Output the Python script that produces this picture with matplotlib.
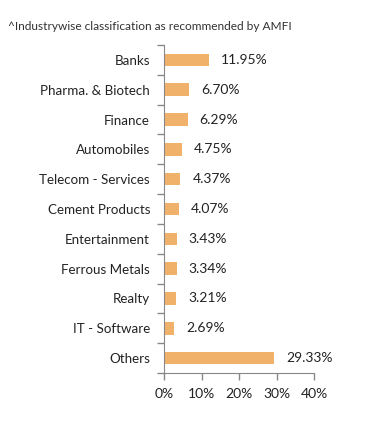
import matplotlib
matplotlib.use("Agg")
import matplotlib.pyplot as plt
import numpy as np

categories = ["Banks", "Pharma. & Biotech", "Finance", "Automobiles", "Telecom - Services",
              "Cement Products", "Entertainment", "Ferrous Metals", "Realty", "IT - Software", "Others"]
values = [11.95, 6.70, 6.29, 4.75, 4.37, 4.07, 3.43, 3.34, 3.21, 2.69, 29.33]
xticks = [0, 10, 20, 30, 40]
title = "^Industrywise classification as recommended by AMFI"

plt.rcParams['font.family'] = ['Lato', 'DejaVu Sans']
txt = "#222222"
fig = plt.figure(figsize=(3.91, 4.26), dpi=100)
ax = fig.add_axes([164/391, 1-373/426, 150/391, 328/426])
y = np.arange(len(categories))
ax.barh(y, values, height=0.42, color="#F0B26A")
ax.set_ylim(len(categories)-0.5, -0.5)
ax.set_xlim(0, 40)
ax.set_yticks(y)
ax.set_yticklabels(categories, fontsize=9.6, color=txt)
ax.set_yticks(np.arange(-0.5, len(categories), 1), minor=True)
ax.tick_params(axis='y', which='major', length=0, pad=10)
ax.tick_params(axis='y', which='minor', length=5, color="#888888", width=1)
ax.set_xticks(xticks)
ax.set_xticklabels([f"{t}%" for t in xticks], fontsize=10, color=txt)
ax.tick_params(axis='x', length=5, color="#888888", width=1, pad=6)
for s in ['top', 'right']:
    ax.spines[s].set_visible(False)
for s in ['left', 'bottom']:
    ax.spines[s].set_color("#888888")
for yi, v in zip(y, values):
    ax.text(v + 3.2, yi, f"{v:.2f}%", va='center', ha='left', fontsize=10, color=txt)
fig.text(8/391, 1-27/426, title, fontsize=8.6, color="#333333", va='center', ha='left')
fig.savefig("out.png", dpi=100)
